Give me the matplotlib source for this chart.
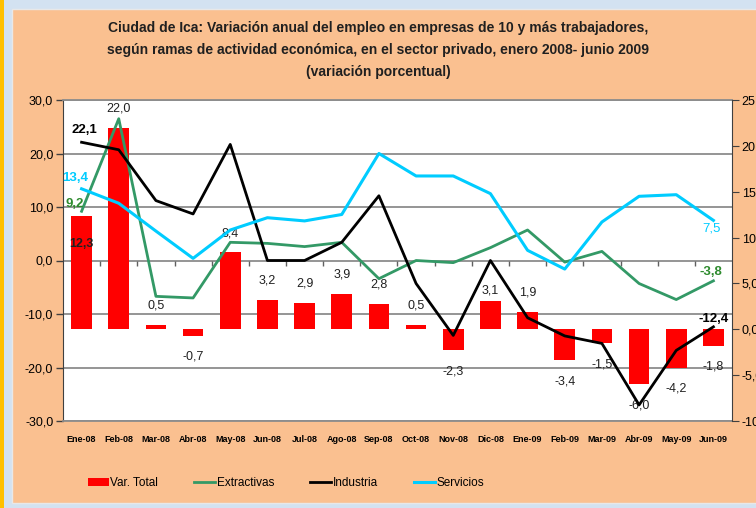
import matplotlib
matplotlib.use('Agg')
import matplotlib.pyplot as plt
from matplotlib.patches import Rectangle
import numpy as np

plt.rcParams['font.family'] = ['Liberation Sans', 'DejaVu Sans']

months = ['Ene-08', 'Feb-08', 'Mar-08', 'Abr-08', 'May-08', 'Jun-08', 'Jul-08', 'Ago-08', 'Sep-08',
          'Oct-08', 'Nov-08', 'Dic-08', 'Ene-09', 'Feb-09', 'Mar-09', 'Abr-09', 'May-09', 'Jun-09']
varTotal = [12.3, 22.0, 0.5, -0.7, 8.4, 3.2, 2.9, 3.9, 2.8, 0.5, -2.3, 3.1, 1.9, -3.4, -1.5, -6.0, -4.2, -1.8]
extractivas = [9.2, 26.5, -6.7, -7.0, 3.4, 3.2, 2.6, 3.4, -3.4, 0.0, -0.4, 2.4, 5.7, -0.3, 1.7, -4.3, -7.3, -3.8]
industria = [22.1, 20.7, 11.2, 8.7, 21.7, 0.0, 0.0, 3.4, 12.1, -4.3, -14.0, 0.0, -10.7, -14.1, -15.5, -27.0, -16.8, -12.4]
servicios = [13.4, 10.7, 5.5, 0.4, 5.7, 8.0, 7.4, 8.6, 20.0, 15.8, 15.8, 12.5, 1.9, -1.6, 7.2, 12.0, 12.3, 7.5]

titleText = ('Ciudad de Ica: Variación anual del empleo en empresas de 10 y más trabajadores,\n'
             'según ramas de actividad económica, en el sector privado, enero 2008- junio 2009\n'
             '(variación porcentual)')

orange = '#FAC090'
green = '#339966'
cyan = '#00CCFF'


def fmt(v):
    return f'{v:.1f}'.replace('.', ',')


fig = plt.figure(figsize=(7.56, 5.08), dpi=100)
fig.patch.set_facecolor('#D3E2F1')
# orange chart area, yellow stripe at left
fig.patches.append(Rectangle((12 / 756, 5 / 508), 1, 494 / 508, transform=fig.transFigure,
                             facecolor=orange, edgecolor='#E8E8E8', lw=1, zorder=-5))
fig.patches.append(Rectangle((0, 0), 4 / 756, 1, transform=fig.transFigure,
                             facecolor='#FFC000', edgecolor='none', zorder=-5))

rect = [63 / 756, 87 / 508, 669 / 756, 321 / 508]
ax = fig.add_axes(rect)
ax.set_facecolor('white')
x = np.arange(len(months))

ax.set_xlim(-0.5, len(months) - 0.5)
ax.set_ylim(-30, 30)
ax.set_yticks(np.arange(-30, 31, 10))
ax.set_yticklabels([fmt(v) for v in np.arange(-30, 31, 10)], fontsize=9)
ax.set_xticks(x)
ax.set_xticklabels(months, fontsize=6.5, fontweight='bold')
ax.tick_params(axis='x', length=0, pad=10)
ax.tick_params(axis='y', length=5, width=1, color='#404040', pad=2)
ax.grid(axis='y', color='#8C8C8C', linewidth=1.3)
ax.set_axisbelow(True)
for s in ['top', 'bottom']:
    ax.spines[s].set_color('#8C8C8C')
    ax.spines[s].set_linewidth(1.3)
ax.spines['left'].set_color('#404040')
ax.spines['right'].set_visible(False)
# small ticks on the zero line between categories
ax.vlines(x[:-1] + 0.5, -1.0, 0, color='#606060', lw=1)

# bars on secondary axis
axBar = ax.twinx()
axBar.set_ylim(-10, 25)
axBar.set_yticks(np.arange(-10, 26, 5))
axBar.set_yticklabels([fmt(v) for v in np.arange(-10, 26, 5)], fontsize=9)
axBar.tick_params(axis='y', length=5, color='#404040', pad=2)
axBar.spines['right'].set_color('#404040')
for s in ['top', 'bottom', 'left']:
    axBar.spines[s].set_visible(False)
axBar.bar(x, varTotal, width=0.56, color='#FF0000', label='Var. Total')
for i, v in enumerate(varTotal):
    if i == 0:
        off = -28
    elif v >= 0:
        off = 19 if i != 11 else 10
    else:
        off = -21
    axBar.annotate(fmt(v), (x[i], v), xytext=(0, off), textcoords='offset pixels',
                   ha='center', va='center', fontsize=9, color='#202020',
                   fontweight='bold' if i == 0 else 'normal')

# lines on top, same scale as left axis
axLine = fig.add_axes(rect, sharex=ax, sharey=ax)
axLine.patch.set_visible(False)
axLine.axis('off')
axLine.plot(x, extractivas, color=green, lw=2, label='Extractivas')
axLine.plot(x, industria, color='black', lw=2, label='Industria')
axLine.plot(x, servicios, color=cyan, lw=2.2, label='Servicios')

axLine.annotate(fmt(industria[0]), (x[0], industria[0]), xytext=(3, 12), textcoords='offset pixels',
                ha='center', va='center', fontsize=9.5, fontweight='bold', color='black')
axLine.annotate(fmt(servicios[0]), (x[0], servicios[0]), xytext=(-6, 11), textcoords='offset pixels',
                ha='center', va='center', fontsize=9.5, fontweight='bold', color=cyan)
axLine.annotate(fmt(extractivas[0]), (x[0], extractivas[0]), xytext=(-7, 7), textcoords='offset pixels',
                ha='center', va='center', fontsize=9.5, fontweight='bold', color='#2E8B2E')
axLine.annotate(fmt(industria[-1]), (x[-1], industria[-1]), xytext=(0, 8), textcoords='offset pixels',
                ha='center', va='center', fontsize=9.5, fontweight='bold', color='black')
axLine.annotate(fmt(extractivas[-1]), (x[-1], extractivas[-1]), xytext=(-3, 9), textcoords='offset pixels',
                ha='center', va='center', fontsize=9.5, fontweight='bold', color='#2E8B2E')
axLine.annotate(fmt(servicios[-1]), (x[-1], servicios[-1]), xytext=(-2, -8), textcoords='offset pixels',
                ha='center', va='center', fontsize=9.5, color=cyan)

fig.text(0.5, 1 - 50 / 508, titleText, ha='center', va='center', fontsize=10,
         fontweight='bold', linespacing=1.75, color='#202020')

handles = []
labels = []
for a in [axBar, axLine]:
    h, l = a.get_legend_handles_labels()
    handles += h
    labels += l
leg = fig.legend(handles, labels, ncol=4, loc='center', bbox_to_anchor=(0.378, 1 - 483 / 508),
                 frameon=False, fontsize=8.5, handlelength=1.8, handletextpad=0.1, columnspacing=3.05)

fig.savefig('out.png', dpi=100, facecolor=fig.get_facecolor())
